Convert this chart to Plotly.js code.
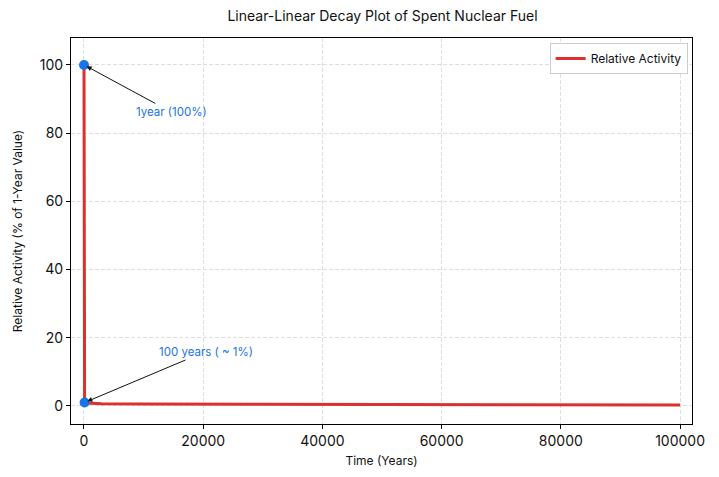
<!DOCTYPE html>
<html>
<head>
<meta charset="utf-8">
<script src="https://cdn.plot.ly/plotly-3.0.1.min.js"></script>
<style>
  body { margin: 0; background: #fff; }
  #chart { width: 719px; height: 477px; }
</style>
</head>
<body>
<div id="chart"></div>
<script>
// decay data (relative to the 1-year value)
const years = [1, 2, 5, 10, 20, 50, 100, 300, 1000, 3000, 10000, 30000, 60000, 100000];
const activity = [100, 60, 30, 17, 8, 3, 1.0, 0.85, 0.75, 0.65, 0.55, 0.45, 0.38, 0.3];

// highlighted points
const markYears = [1, 100];
const markValues = [100, 1.0];
const markLabels = ["1year (100%)", "100 years ( ~ 1%)"];

const fontFam = "Inter, Roboto, 'DejaVu Sans', sans-serif";

const traces = [
  {
    x: years,
    y: activity,
    type: "scatter",
    mode: "lines",
    name: "Relative Activity",
    line: { color: "#dc2f2f", width: 3 }
  },
  {
    x: markYears,
    y: markValues,
    type: "scatter",
    mode: "markers",
    showlegend: false,
    marker: { color: "#1a73e8", size: 10 }
  }
];

const layout = {
  width: 719,
  height: 477,
  margin: { l: 71, r: 27, t: 38, b: 53 },
  paper_bgcolor: "#fff",
  plot_bgcolor: "#fff",
  font: { family: fontFam, color: "#111" },
  title: {
    text: "Linear-Linear Decay Plot of Spent Nuclear Fuel",
    x: 0.532, xanchor: "center", y: 0.966, yanchor: "middle",
    font: { size: 14, color: "#111" }
  },
  xaxis: {
    range: [-2180, 102000],
    tickvals: [0, 20000, 40000, 60000, 80000, 100000],
    tickformat: "d",
    showline: true, linecolor: "#000", linewidth: 1, mirror: true,
    ticks: "outside", ticklen: 4, tickcolor: "#000",
    showgrid: true, gridcolor: "#dedede", griddash: "4px,2px", gridwidth: 1,
    zeroline: false,
    tickfont: { size: 14 },
    title: { text: "Time (Years)", font: { size: 12 }, standoff: 8 }
  },
  yaxis: {
    range: [-5.3, 107.9],
    tickvals: [0, 20, 40, 60, 80, 100],
    showline: true, linecolor: "#000", linewidth: 1, mirror: true,
    ticks: "outside", ticklen: 4, tickcolor: "#000",
    showgrid: true, gridcolor: "#dedede", griddash: "4px,2px", gridwidth: 1,
    zeroline: false,
    tickfont: { size: 14 },
    title: { text: "Relative Activity (% of 1-Year Value)", font: { size: 12 }, standoff: 14 }
  },
  legend: {
    x: 0.993, xanchor: "right", y: 0.987, yanchor: "top",
    bordercolor: "#ccc", borderwidth: 1, bgcolor: "#fff",
    font: { size: 12 }
  },
  annotations: [
    {
      x: markYears[0], y: markValues[0], xref: "x", yref: "y",
      text: markLabels[0], showarrow: true,
      ax: 87, ay: 47, arrowhead: 2, arrowsize: 1, arrowwidth: 1, arrowcolor: "#111",
      standoff: 3,
      font: { size: 11.5, color: "#1a73e8" }
    },
    {
      x: markYears[1], y: markValues[1], xref: "x", yref: "y",
      text: markLabels[1], showarrow: true,
      ax: 121, ay: -51, arrowhead: 2, arrowsize: 1, arrowwidth: 1, arrowcolor: "#111",
      standoff: 3,
      font: { size: 11.5, color: "#1a73e8" }
    }
  ]
};

Plotly.newPlot("chart", traces, layout, { displayModeBar: false, staticPlot: true });
</script>
</body>
</html>
